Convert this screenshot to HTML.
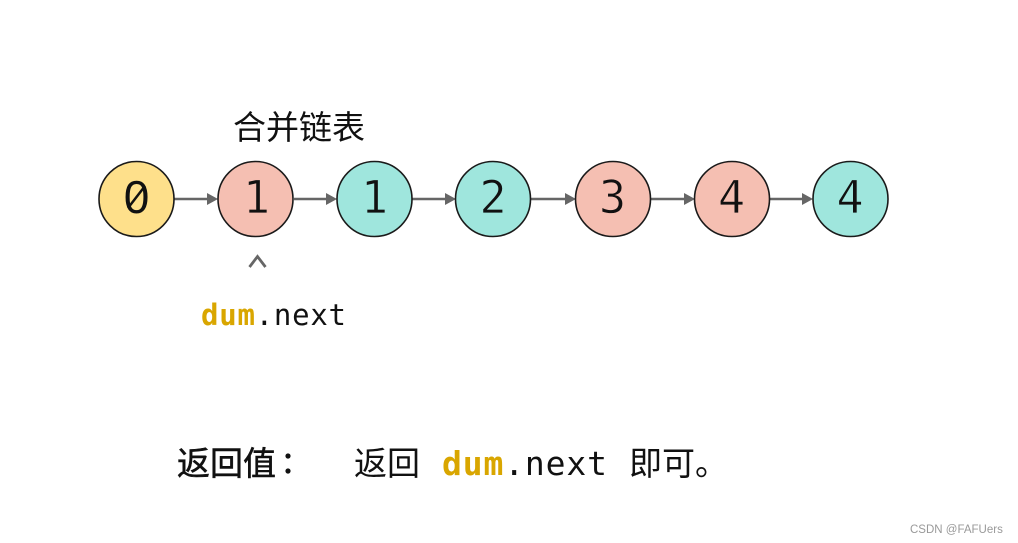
<!DOCTYPE html>
<html>
<head>
<meta charset="utf-8">
<style>
html,body{margin:0;padding:0;background:#fff;width:1018px;height:543px;overflow:hidden}
svg{display:block}
.m{font-family:"DejaVu Sans Mono","Liberation Mono",monospace}
.c{font-family:"Liberation Sans","Noto Sans CJK SC",sans-serif}
</style>
</head>
<body>
<svg width="1018" height="543" viewBox="0 0 1018 543" xmlns="http://www.w3.org/2000/svg">
<rect width="1018" height="543" fill="#fff"/>
<g stroke="#666" stroke-width="2.6" fill="none">
<line x1="174" y1="199" x2="210" y2="199"/>
<line x1="294" y1="199" x2="329" y2="199"/>
<line x1="412" y1="199" x2="448" y2="199"/>
<line x1="531" y1="199" x2="568" y2="199"/>
<line x1="651" y1="199" x2="687" y2="199"/>
<line x1="770" y1="199" x2="805" y2="199"/>
</g>
<g fill="#666">
<polygon points="207,193 218,199 207,205"/>
<polygon points="326,193 337,199 326,205"/>
<polygon points="445,193 456,199 445,205"/>
<polygon points="565,193 576,199 565,205"/>
<polygon points="684,193 695,199 684,205"/>
<polygon points="802,193 813,199 802,205"/>
</g>
<g stroke="#1a1a1a" stroke-width="1.6">
<circle cx="136.500" cy="199" r="37.500" fill="#fee08b"/>
<circle cx="255.500" cy="199" r="37.500" fill="#f5bfb2"/>
<circle cx="374.500" cy="199" r="37.500" fill="#9fe6dd"/>
<circle cx="493" cy="199" r="37.500" fill="#9fe6dd"/>
<circle cx="613" cy="199" r="37.500" fill="#f5bfb2"/>
<circle cx="732" cy="199" r="37.500" fill="#f5bfb2"/>
<circle cx="850.500" cy="199" r="37.500" fill="#9fe6dd"/>
</g>
<text x="136.500" y="213" font-family="Liberation Sans, sans-serif" font-size="46" fill="#111" text-anchor="middle">0</text>
<line x1="128" y1="208" x2="145" y2="186" stroke="#111" stroke-width="2.500"/>
<g class="m" font-size="45" fill="#111" text-anchor="middle">
<text transform="translate(256.500,213)" stroke="#f5bfb2" stroke-width=".7">1</text>
<text transform="translate(374.500,213)" stroke="#9fe6dd" stroke-width=".7">1</text>
<text transform="translate(493,213)" stroke="#9fe6dd" stroke-width=".7">2</text>
<text transform="translate(612.500,213)" stroke="#f5bfb2" stroke-width=".7">3</text>
<text transform="translate(731.500,213)" stroke="#f5bfb2" stroke-width=".7">4</text>
<text transform="translate(850,213)" stroke="#9fe6dd" stroke-width=".7">4</text>
</g>
<text class="c" x="233" y="139" font-size="33" fill="#111">合并链表</text>
<polyline points="249.500,267 257.500,256.500 265.500,267" fill="none" stroke="#666" stroke-width="2.800"/>
<text class="m" x="201" y="325" font-size="29" fill="#111" textLength="145"><tspan font-weight="bold" fill="#d9a600">dum</tspan>.next</text>
<text class="c" x="177" y="475" font-size="33" fill="#111" stroke="#111" stroke-width=".5">返回值</text>
<circle cx="288" cy="456" r="2.600" fill="#111"/>
<circle cx="288" cy="471" r="2.600" fill="#111"/>
<text class="c" x="354" y="475" font-size="33" fill="#111">返回</text>
<text class="m" x="442" y="475" font-size="33" fill="#111" textLength="165"><tspan font-weight="bold" fill="#d9a600">dum</tspan>.next</text>
<text class="c" x="629" y="475" font-size="33" fill="#111">即可。</text>
<text x="910" y="533" font-family="Liberation Sans, sans-serif" font-size="11.500" fill="#999">CSDN @FAFUers</text>
</svg>
</body>
</html>
